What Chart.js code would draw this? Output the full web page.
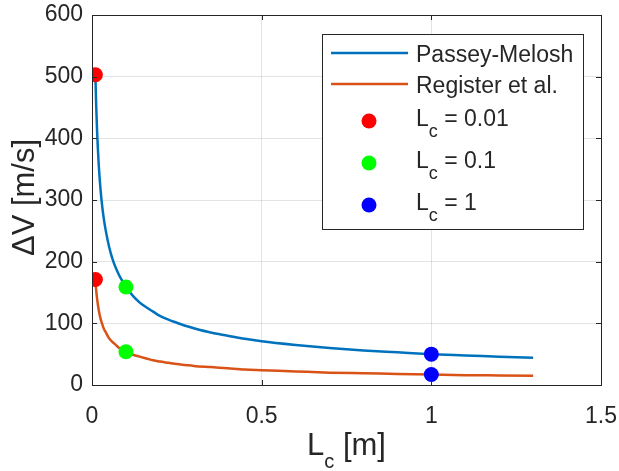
<!DOCTYPE html>
<html><head><meta charset="utf-8">
<script src="https://cdn.jsdelivr.net/npm/chart.js@4"></script>
<style>html,body{margin:0;padding:0;background:#fff}#wrap{width:619px;height:471px;position:relative}</style>
</head><body><div id="wrap"><canvas id="c" width="619" height="471"></canvas></div>
<script>
// ---- data ----
const lcCurve = [0.01,0.012,0.015,0.02,0.025,0.03,0.035,0.04,0.05,0.06,0.07,0.08,0.09,0.1,0.12,0.14,0.16,0.18,0.2,0.225,0.25,0.275,0.3,0.35,0.4,0.45,0.5,0.6,0.7,0.8,0.9,1.0,1.1,1.2,1.3];
const passeyMelosh = [503,459,411,356,318,290,269,252,225,205,190,178,168,159,145,134,126,119,112,106,101,96,92,85,80,75,71,65,60,56,53,50,48,46,44];
const registerEtAl = [171,156,140,121,108,99,91,86,76,70,65,60,57,54,49,46,43,40,38,36,34,32.5,31,29,27,25,24,22,20,19,18,17,16,15.5,15];
const markerLc = [0.01, 0.1, 1];
const markerPassey = [503, 159, 50];
const markerRegister = [171, 54, 17];
const markerLabels = ['0.01', '0.1', '1'];
const seriesNames = ['Passey-Melosh', 'Register et al.'];
const xTicks = [0, 0.5, 1, 1.5];
const yTicks = [0, 100, 200, 300, 400, 500, 600];
const xTitle = ['L', 'c', ' [m]'];
const yTitle = '\u0394V [m/s]';

const lineColors = ['#0072BD', '#D95319'];
const markerColors = ['#FF0000', '#00FF00', '#0000FF'];
const FONT = '"Liberation Sans", Arial, Helvetica, sans-serif';
const TXT = '#262626';

const datasets = [
  {label: seriesNames[0], data: lcCurve.map((x,i)=>({x, y: passeyMelosh[i]})), showLine:true, borderColor: lineColors[0], borderWidth: 2.5, pointRadius:0, cubicInterpolationMode:'monotone', order: 2},
  {label: seriesNames[1], data: lcCurve.map((x,i)=>({x, y: registerEtAl[i]})), showLine:true, borderColor: lineColors[1], borderWidth: 2.5, pointRadius:0, cubicInterpolationMode:'monotone', order: 2},
];
markerLc.forEach((lc, i) => {
  datasets.push({label: 'Lc = ' + markerLabels[i], data: [{x: lc, y: markerPassey[i]}, {x: lc, y: markerRegister[i]}],
    showLine:false, pointRadius: 7.5, pointBackgroundColor: markerColors[i], pointBorderColor: markerColors[i], pointBorderWidth: 0, order: 1});
});

const decor = {
  id: 'decor',
  afterDraw(chart) {
    const {ctx, chartArea: a, scales} = chart;
    ctx.save();
    // box
    ctx.strokeStyle = TXT; ctx.lineWidth = 1;
    ctx.strokeRect(Math.round(a.left)+0.5, Math.round(a.top)+0.5, Math.round(a.right-a.left), Math.round(a.bottom-a.top));
    // inward ticks
    ctx.beginPath();
    xTicks.forEach(v => { const px = Math.round(scales.x.getPixelForValue(v))+0.5;
      ctx.moveTo(px, a.bottom); ctx.lineTo(px, a.bottom-5); ctx.moveTo(px, a.top); ctx.lineTo(px, a.top+5); });
    yTicks.forEach(v => { const py = Math.round(scales.y.getPixelForValue(v))+0.5;
      ctx.moveTo(a.left, py); ctx.lineTo(a.left+5, py); ctx.moveTo(a.right, py); ctx.lineTo(a.right-5, py); });
    ctx.stroke();
    // axis titles
    ctx.fillStyle = TXT;
    ctx.textBaseline = 'alphabetic';
    const cx = (a.left + a.right)/2;
    ctx.font = '31px ' + FONT; const wL = ctx.measureText(xTitle[0]).width;
    ctx.font = '20px ' + FONT; const wc = ctx.measureText(xTitle[1]).width;
    ctx.font = '31px ' + FONT; const wr = ctx.measureText(xTitle[2]).width;
    const sx = cx - (wL + wc + wr)/2;
    const by = 455;
    ctx.textAlign = 'left';
    ctx.fillText(xTitle[0], sx, by);
    ctx.font = '20px ' + FONT; ctx.fillText(xTitle[1], sx + wL, by + 13);
    ctx.font = '31px ' + FONT; ctx.fillText(xTitle[2], sx + wL + wc, by);
    ctx.save();
    ctx.translate(34, 197.5);
    ctx.rotate(-Math.PI/2);
    ctx.textAlign = 'center';
    ctx.font = '31px ' + FONT;
    ctx.fillText(yTitle, 0, 0);
    ctx.restore();
    // legend
    const L = {x: 322, y: 34, w: 261, h: 195};
    ctx.fillStyle = '#fff'; ctx.fillRect(L.x, L.y, L.w, L.h);
    ctx.strokeStyle = TXT; ctx.lineWidth = 1; ctx.strokeRect(L.x+0.5, L.y+0.5, L.w, L.h);
    const rows = [53, 84, 121, 163, 205];
    const textX = 416;
    ctx.textAlign = 'left'; ctx.textBaseline = 'alphabetic';
    for (let i = 0; i < 2; i++) {
      ctx.strokeStyle = lineColors[i]; ctx.lineWidth = 2.5;
      ctx.beginPath(); ctx.moveTo(331, rows[i]); ctx.lineTo(408, rows[i]); ctx.stroke();
      ctx.fillStyle = TXT; ctx.font = '23px ' + FONT;
      ctx.fillText(seriesNames[i], textX, rows[i] + 9);
    }
    for (let i = 0; i < 3; i++) {
      const ry = rows[i+2];
      ctx.fillStyle = markerColors[i];
      ctx.beginPath(); ctx.arc(369, ry, 7.5, 0, Math.PI*2); ctx.fill();
      ctx.fillStyle = TXT; ctx.font = '23px ' + FONT;
      ctx.fillText('L', textX, ry + 5);
      const w1 = ctx.measureText('L').width;
      ctx.font = '18px ' + FONT; ctx.fillText('c', textX + w1, ry + 16);
      const w2 = ctx.measureText('c').width;
      ctx.font = '23px ' + FONT; ctx.fillText(' = ' + markerLabels[i], textX + w1 + w2, ry + 5);
    }
    ctx.restore();
  }
};

new Chart(document.getElementById('c'), {
  type: 'scatter',
  data: {datasets},
  options: {
    responsive: false, animation: false, devicePixelRatio: 1,
    layout: {padding: {left: 0, right: 18, top: 15, bottom: 0}},
    plugins: {legend: {display: false}, tooltip: {enabled: false}},
    scales: {
      x: {type: 'linear', min: 0, max: 1.5,
        afterBuildTicks: s => { s.ticks = xTicks.map(v => ({value: v})); },
        afterFit: s => { s.height = 86; s.paddingLeft = 0; s.paddingRight = 0; },
        ticks: {color: TXT, font: {family: FONT, size: 23}, padding: 18, maxRotation: 0, callback: v => String(v)},
        grid: {color: 'rgba(0,0,0,0.11)', drawTicks: false}, border: {display: false}},
      y: {type: 'linear', min: 0, max: 600,
        afterBuildTicks: s => { s.ticks = yTicks.map(v => ({value: v})); },
        afterFit: s => { s.width = 92; s.paddingTop = 0; s.paddingBottom = 0; },
        ticks: {color: TXT, font: {family: FONT, size: 23}, padding: 9, callback: v => String(v)},
        grid: {color: 'rgba(0,0,0,0.11)', drawTicks: false}, border: {display: false}}
    }
  },
  plugins: [decor]
});
</script></body></html>
